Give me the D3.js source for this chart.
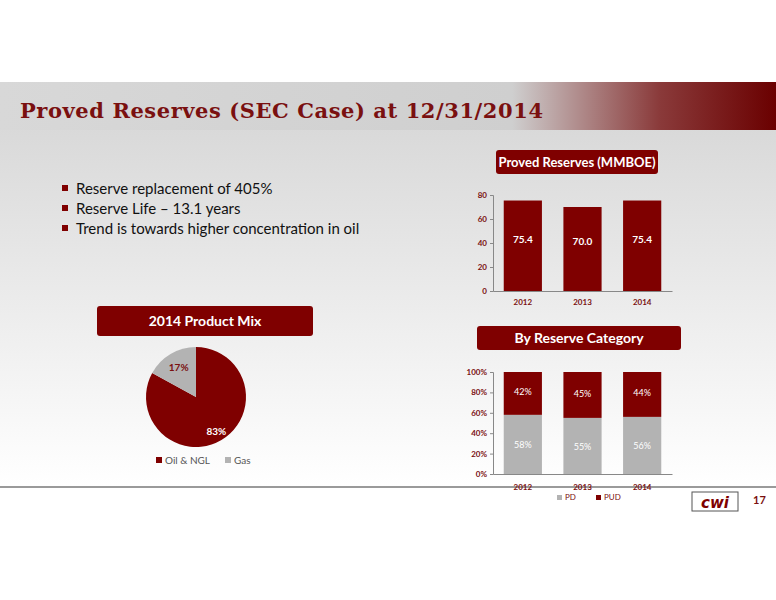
<!DOCTYPE html>
<html><head><meta charset="utf-8">
<script src="https://cdn.jsdelivr.net/npm/d3@7"></script>
<style>body{margin:0}svg{display:block}</style>
</head><body><svg></svg>
<script>
var years = ["2012","2013","2014"];
var reserves = [75.4, 70.0, 75.4];
var pdShare = [58, 55, 56];
var pudShare = [42, 45, 44];
var mixLabels = ["Oil & NGL","Gas"];
var mixValues = [83, 17];
var bullets = ["Reserve replacement of 405%","Reserve Life \u2013 13.1 years","Trend is towards higher concentration in oil"];

var red = "#7f0000", grey = "#b3b3b3", font = "Lato, 'Open Sans', sans-serif";
var svg = d3.select("svg").attr("width",776).attr("height",600);
var defs = svg.append("defs");
var g1 = defs.append("linearGradient").attr("id","hdr");
g1.append("stop").attr("offset","0").attr("stop-color","#d8d8d8");
g1.append("stop").attr("offset","0.66").attr("stop-color","#cfcfcf");
g1.append("stop").attr("offset","0.85").attr("stop-color","#8a3a3a");
g1.append("stop").attr("offset","1").attr("stop-color","#6a0000");
var g2 = defs.append("linearGradient").attr("id","bg").attr("x1",0).attr("y1",0).attr("x2",0).attr("y2",1);
g2.append("stop").attr("offset","0").attr("stop-color","#d9d9d9");
g2.append("stop").attr("offset","1").attr("stop-color","#ffffff");

svg.append("rect").attr("width",776).attr("height",600).attr("fill","#fff");
svg.append("rect").attr("y",128).attr("width",776).attr("height",358).attr("fill","url(#bg)");
svg.append("rect").attr("y",82).attr("width",776).attr("height",48).attr("fill","url(#hdr)");
svg.append("text").attr("x",20).attr("y",118).attr("font-family","'DejaVu Serif', serif").attr("font-weight","bold")
  .attr("font-size",21).attr("fill","#7a1010").attr("textLength",523).text("Proved Reserves (SEC Case) at 12/31/2014");
svg.append("rect").attr("y",486).attr("width",776).attr("height",2).attr("fill","#9a9a9a");

bullets.forEach(function(b,i){
  svg.append("rect").attr("x",62).attr("y",185+i*20).attr("width",6).attr("height",6).attr("fill",red);
  svg.append("text").attr("x",76).attr("y",194+i*20).attr("font-family",font).attr("font-size",15).attr("fill","#111").text(b);
});

function titleBox(x,y,w,h,t,fs){
  svg.append("rect").attr("x",x).attr("y",y).attr("width",w).attr("height",h).attr("rx",3).attr("fill",red);
  svg.append("text").attr("x",x+w/2).attr("y",y+h/2+5).attr("text-anchor","middle").attr("font-family",font)
    .attr("font-weight","bold").attr("font-size",fs).attr("fill","#fff").text(t);
}
titleBox(496,150,162,24,"Proved Reserves (MMBOE)",13);
titleBox(97,306,216,30,"2014 Product Mix",14);
titleBox(477,326,204,24,"By Reserve Category",14);

function axisStyle(g){
  g.selectAll("text").attr("font-family",font).attr("font-weight","bold").attr("font-size",8).attr("fill","#7a1010");
  g.selectAll("path,line").attr("stroke","#888");
}
var x = d3.scaleBand().domain(years).range([493,672]).paddingInner(0.36).paddingOuter(0.18);

// top bars
var y1 = d3.scaleLinear().domain([0,80]).range([291,195]);
var ga = svg.append("g").attr("transform","translate(493,0)").call(d3.axisLeft(y1).ticks(4).tickSize(3));
axisStyle(ga);
var gb = svg.append("g").attr("transform","translate(0,291)").call(d3.axisBottom(x).tickSize(0).tickPadding(8));
axisStyle(gb);
svg.selectAll(".rb").data(reserves).enter().append("rect").attr("x",function(d,i){return x(years[i]);})
  .attr("y",function(d){return y1(d);}).attr("width",x.bandwidth()).attr("height",function(d){return 291-y1(d);}).attr("fill",red);
svg.selectAll(".rl").data(reserves).enter().append("text").attr("x",function(d,i){return x(years[i])+x.bandwidth()/2;})
  .attr("y",function(d,i){return i==1?245:243;}).attr("text-anchor","middle").attr("font-family",font).attr("font-weight","bold")
  .attr("font-size",10).attr("fill","#fff").text(function(d){return d.toFixed(1);});

// stacked
var y2 = d3.scaleLinear().domain([0,100]).range([474,372]);
var gc = svg.append("g").attr("transform","translate(493,0)").call(d3.axisLeft(y2).ticks(5).tickSize(3).tickFormat(function(d){return d+"%";}));
axisStyle(gc);
var gd = svg.append("g").attr("transform","translate(0,474)").call(d3.axisBottom(x).tickSize(0).tickPadding(10));
axisStyle(gd);
years.forEach(function(yr,i){
  svg.append("rect").attr("x",x(yr)).attr("y",y2(pdShare[i])).attr("width",x.bandwidth()).attr("height",474-y2(pdShare[i])).attr("fill",grey);
  svg.append("rect").attr("x",x(yr)).attr("y",y2(100)).attr("width",x.bandwidth()).attr("height",y2(pdShare[i])-y2(100)).attr("fill",red);
  svg.append("text").attr("x",x(yr)+x.bandwidth()/2).attr("y",y2(pdShare[i]/2)+4).attr("text-anchor","middle")
    .attr("font-family",font).attr("font-size",9).attr("fill","#fff").text(pdShare[i]+"%");
  svg.append("text").attr("x",x(yr)+x.bandwidth()/2).attr("y",y2(100-pudShare[i]/2)+2).attr("text-anchor","middle")
    .attr("font-family",font).attr("font-size",9).attr("fill","#fff").text(pudShare[i]+"%");
});
[["PD",grey,557],["PUD",red,596]].forEach(function(l){
  svg.append("rect").attr("x",l[2]).attr("y",495).attr("width",5).attr("height",5).attr("fill",l[1]);
  svg.append("text").attr("x",l[2]+8).attr("y",500).attr("font-family",font).attr("font-size",8).attr("fill","#7a1010").text(l[0]);
});

// pie
var arcs = d3.pie().sort(null)(mixValues);
var arc = d3.arc().innerRadius(0).outerRadius(50);
var pg = svg.append("g").attr("transform","translate(196,397)");
pg.selectAll("path").data(arcs).enter().append("path").attr("d",arc).attr("fill",function(d,i){return [red,grey][i];});
pg.selectAll("text").data(arcs).enter().append("text")
  .attr("transform",function(d,i){var r=i?34:40;var c=d3.arc().innerRadius(r).outerRadius(r).centroid(d);return "translate("+c+")";})
  .attr("text-anchor","middle").attr("dy","0.35em").attr("font-family",font).attr("font-weight","bold").attr("font-size",10)
  .attr("fill",function(d,i){return i?"#7a1010":"#fff";}).text(function(d){return d.value+"%";});
mixLabels.forEach(function(l,i){
  var lx = [156,225][i];
  svg.append("rect").attr("x",lx).attr("y",457).attr("width",6).attr("height",6).attr("fill",[red,grey][i]);
  svg.append("text").attr("x",lx+9).attr("y",464).attr("font-family",font).attr("font-size",10).attr("fill","#555").text(l);
});

// logo & page
svg.append("rect").attr("x",692).attr("y",492).attr("width",46).attr("height",19).attr("fill","#fff").attr("stroke","#555");
svg.append("text").attr("x",715).attr("y",508).attr("text-anchor","middle").attr("font-family","'DejaVu Sans', sans-serif")
  .attr("font-style","italic").attr("font-weight","bold").attr("font-size",15).attr("fill",red).text("cwi");
svg.append("text").attr("x",753).attr("y",504).attr("font-family",font).attr("font-weight","bold").attr("font-size",11).attr("fill","#7a1010").text("17");
</script></body></html>
